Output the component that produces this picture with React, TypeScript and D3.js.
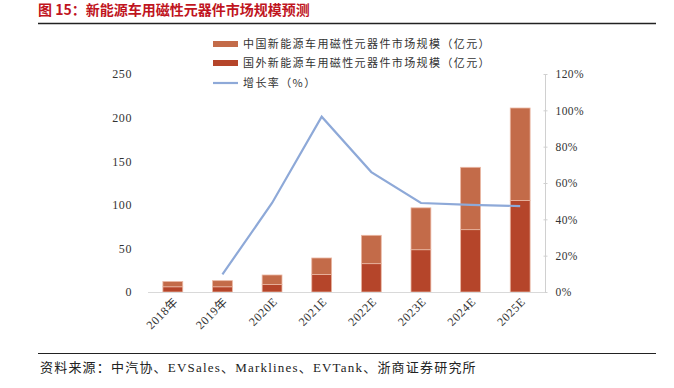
import React, { useRef, useEffect } from 'react';
import * as d3 from 'd3';

// Data
const years = ['2018年', '2019年', '2020E', '2021E', '2022E', '2023E', '2024E', '2025E'];
const chinaValues = [6, 7, 11, 19, 32.5, 48, 71.5, 106];
const abroadValues = [6, 6, 8.5, 20, 32.5, 48.5, 71.5, 105];
const growthValues = [null, 9.7, 49, 96.5, 66, 49, 48, 47.3];
const leftTicks = [0, 50, 100, 150, 200, 250];
const rightTicks = [0, 20, 40, 60, 80, 100, 120];

const seriesNames = [
  '中国新能源车用磁性元器件市场规模（亿元）',
  '国外新能源车用磁性元器件市场规模（亿元）',
  '增长率（%）',
];

const chinaColor = '#c36b49';
const abroadColor = '#b5452a';
const lineColor = '#8ea9d8';

const App = () => {
  const svgRef = useRef(null);

  useEffect(() => {
    const width = 674;
    const height = 388;
    const svg = d3.select(svgRef.current)
      .attr('width', width)
      .attr('height', height);
    svg.selectAll('*').remove();

    const serif = '"Liberation Serif", "Times New Roman", serif';
    const cjk = '"Noto Sans CJK SC", sans-serif';

    // Title + rules
    svg.append('text')
      .attr('x', 38).attr('y', 15)
      .attr('fill', '#c0151e')
      .attr('font-family', cjk)
      .attr('font-weight', 'bold')
      .attr('font-size', 14)
      .text('图 15：新能源车用磁性元器件市场规模预测');
    svg.append('line')
      .attr('x1', 38).attr('x2', 656).attr('y1', 23.5).attr('y2', 23.5)
      .attr('stroke', '#222').attr('stroke-width', 1.5);
    svg.append('line')
      .attr('x1', 38).attr('x2', 656).attr('y1', 353.5).attr('y2', 353.5)
      .attr('stroke', '#222').attr('stroke-width', 1.2);
    svg.append('text')
      .attr('x', 40).attr('y', 372)
      .attr('fill', '#222')
      .attr('font-family', `${serif}, ${cjk}`)
      .attr('font-size', 13)
      .attr('letter-spacing', 1.2)
      .text('资料来源：中汽协、EVSales、Marklines、EVTank、浙商证券研究所');

    // Scales
    const x = d3.scaleBand().domain(years).range([148, 545]).paddingInner(0.6).paddingOuter(0.3);
    const yL = d3.scaleLinear().domain([0, 250]).range([292, 74]);
    const yR = d3.scaleLinear().domain([0, 120]).range([292, 74]);

    // Left axis (labels only)
    const gL = svg.append('g').attr('transform', 'translate(148,0)')
      .call(d3.axisLeft(yL).tickValues(leftTicks).tickSize(0).tickPadding(16));
    gL.select('.domain').remove();
    gL.selectAll('text')
      .attr('font-family', serif).attr('font-size', 12).attr('fill', '#333')
      .attr('letter-spacing', 0.6);

    // Right axis
    const gR = svg.append('g').attr('transform', 'translate(545.5,0)')
      .call(d3.axisRight(yR).tickValues(rightTicks).tickSize(3).tickPadding(7)
        .tickFormat(d => `${d}%`));
    gR.select('.domain').attr('stroke', '#d0d0d0').attr('d', 'M0,74V292');
    gR.selectAll('line').attr('stroke', '#d0d0d0').attr('x1', -2).attr('x2', 2);
    gR.selectAll('text')
      .attr('font-family', serif).attr('font-size', 11.5).attr('fill', '#333')
      .attr('letter-spacing', 0.4);

    // Stacked bars
    const stackData = years.map((year, i) => ({ year, abroad: abroadValues[i], china: chinaValues[i] }));
    const stacked = d3.stack().keys(['abroad', 'china'])(stackData);
    const colors = { abroad: abroadColor, china: chinaColor };
    stacked.forEach(layer => {
      svg.append('g')
        .selectAll('rect')
        .data(layer)
        .join('rect')
        .attr('x', d => x(d.data.year))
        .attr('width', x.bandwidth())
        .attr('y', d => yL(d[1]))
        .attr('height', d => yL(d[0]) - yL(d[1]))
        .attr('fill', colors[layer.key])
        .attr('stroke', '#eab7a3')
        .attr('stroke-width', 0.8);
    });

    // Bottom axis
    const gB = svg.append('g').attr('transform', 'translate(0,292.5)')
      .call(d3.axisBottom(x).tickSize(0).tickPadding(0));
    gB.select('.domain').attr('stroke', '#d9d9d9').attr('d', 'M148,0H545');
    gB.selectAll('text')
      .attr('font-family', `${serif}, ${cjk}`)
      .attr('font-size', 12)
      .attr('fill', '#333')
      .attr('letter-spacing', 0.6)
      .attr('text-anchor', 'end')
      .attr('dy', 0)
      .attr('transform', 'translate(6,10) rotate(-45)');

    // Growth line
    const lineData = years.map((year, i) => ({ year, v: growthValues[i] })).filter(d => d.v !== null);
    const line = d3.line()
      .x(d => x(d.year) + x.bandwidth() / 2)
      .y(d => yR(d.v));
    svg.append('path')
      .datum(lineData)
      .attr('fill', 'none')
      .attr('stroke', lineColor)
      .attr('stroke-width', 2.2)
      .attr('d', line);

    // Legend
    const legend = svg.append('g').attr('transform', 'translate(213,0)');
    const rows = [44, 63, 83];
    seriesNames.forEach((name, i) => {
      const g = legend.append('g').attr('transform', `translate(0,${rows[i]})`);
      if (i < 2) {
        g.append('rect').attr('x', 0).attr('y', -3).attr('width', 25).attr('height', 6)
          .attr('fill', i === 0 ? chinaColor : abroadColor);
      } else {
        g.append('line').attr('x1', 0).attr('x2', 25).attr('y1', 0).attr('y2', 0)
          .attr('stroke', lineColor).attr('stroke-width', 2.2);
      }
      g.append('text')
        .attr('x', 30).attr('y', 0).attr('dy', '0.35em')
        .attr('font-family', cjk)
        .attr('font-size', 11)
        .attr('letter-spacing', 1.4)
        .attr('fill', '#333')
        .text(name);
    });
  }, []);

  return <svg ref={svgRef} style={{ position: 'absolute', left: 0, top: 0 }}></svg>;
};

export default App;
